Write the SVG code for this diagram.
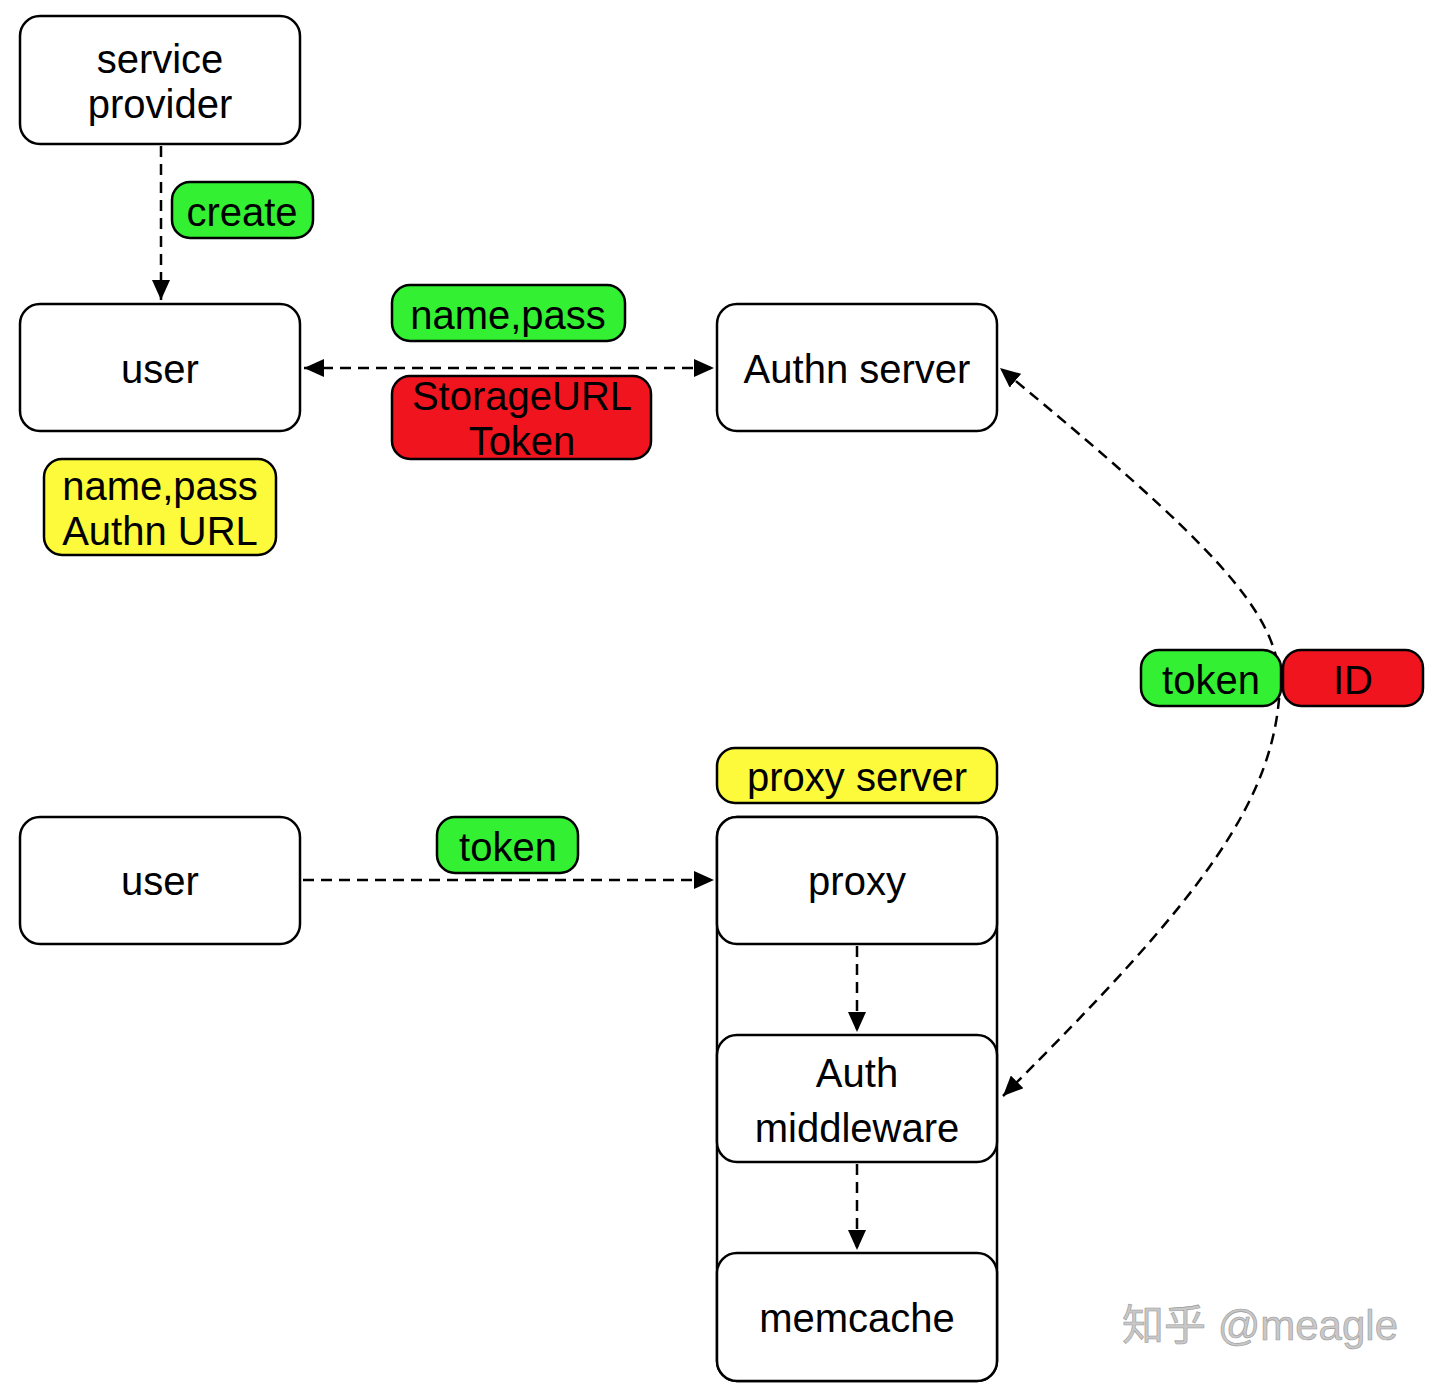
<svg xmlns="http://www.w3.org/2000/svg" width="1440" height="1390" viewBox="0 0 1440 1390">
<style>
.box{fill:#fff;stroke:#000;stroke-width:2.5}
.frame{fill:none;stroke:#000;stroke-width:2.5}
.g{fill:#33f033;stroke:#000;stroke-width:2.5}
.r{fill:#f0141e;stroke:#000;stroke-width:2.5}
.y{fill:#fcfa3a;stroke:#000;stroke-width:2.5}
text{font-family:"Liberation Sans",Arial,sans-serif;font-size:40px;fill:#000;text-anchor:middle}
.c{fill:none;stroke:#000;stroke-width:2.5;stroke-dasharray:11 7}
</style>
<defs>
<marker id="ah" markerUnits="userSpaceOnUse" markerWidth="22" markerHeight="18" refX="20" refY="9" orient="auto-start-reverse">
<path d="M0,0 L20,9 L0,18 Z" fill="#000"/>
</marker>
</defs>
<g id="proxy-server"><rect class="box" x="717" y="817" width="280" height="564" rx="20"/></g>
<g id="connectors">
<path class="c" d="M161,146 L161,300" marker-end="url(#ah)"/>
<path class="c" d="M304,368 L714,368" marker-start="url(#ah)" marker-end="url(#ah)"/>
<path class="c" d="M303,880 L714,880" marker-end="url(#ah)"/>
<path class="c" d="M857,946 L857,1032" marker-end="url(#ah)"/>
<path class="c" d="M857,1164 L857,1250" marker-end="url(#ah)"/>
<path class="c" d="M1280,680 C1275,610 1215,545 1000,368" marker-end="url(#ah)"/>
<path class="c" d="M1280,680 C1278,800 1200,900 1003,1096" marker-end="url(#ah)"/>
</g>
<g id="service-provider"><rect class="box" x="20" y="16" width="280" height="128" rx="20"/><text x="160" y="73">service</text><text x="160" y="118">provider</text></g>
<g id="label-create"><rect class="g" x="172" y="182" width="141" height="56" rx="18"/><text x="242" y="226">create</text></g>
<g id="user1"><rect class="box" x="20" y="304" width="280" height="127" rx="20"/><text x="160" y="383">user</text></g>
<g id="label-namepass"><rect class="g" x="392" y="285" width="233" height="56" rx="18"/><text x="508" y="329">name,pass</text></g>
<g id="label-storage"><rect class="r" x="392" y="376" width="259" height="83" rx="18"/><text x="522" y="410">StorageURL</text><text x="522" y="455">Token</text></g>
<g id="authn-server"><rect class="box" x="717" y="304" width="280" height="127" rx="20"/><text x="857" y="383">Authn server</text></g>
<g id="label-user-info"><rect class="y" x="44" y="459" width="232" height="96" rx="18"/><text x="160" y="500">name,pass</text><text x="160" y="545">Authn URL</text></g>
<g id="label-token-id"><rect class="g" x="1141" y="650" width="140" height="56" rx="18"/><text x="1211" y="694">token</text><rect class="r" x="1283" y="650" width="140" height="56" rx="18"/><text x="1353" y="694">ID</text></g>
<g id="label-proxy-server"><rect class="y" x="717" y="748" width="280" height="55" rx="18"/><text x="857" y="791">proxy server</text></g>
<g id="user2"><rect class="box" x="20" y="817" width="280" height="127" rx="20"/><text x="160" y="895">user</text></g>
<g id="label-token"><rect class="g" x="437" y="817" width="141" height="56" rx="18"/><text x="508" y="861">token</text></g>
<g id="proxy"><rect class="box" x="717" y="817" width="280" height="127" rx="20"/><text x="857" y="895">proxy</text></g>
<g id="auth-middleware"><rect class="box" x="717" y="1035" width="280" height="127" rx="20"/><text x="857" y="1087">Auth</text><text x="857" y="1142">middleware</text></g>
<g id="memcache"><rect class="box" x="717" y="1253" width="280" height="128" rx="20"/><text x="857" y="1332">memcache</text></g>
<text x="1260" y="1340" style="font-family:'Liberation Sans','Noto Sans CJK SC',sans-serif;font-size:42px;fill:#c8c8c8;stroke:#999;stroke-width:0.6">知乎 @meagle</text>
</svg>
